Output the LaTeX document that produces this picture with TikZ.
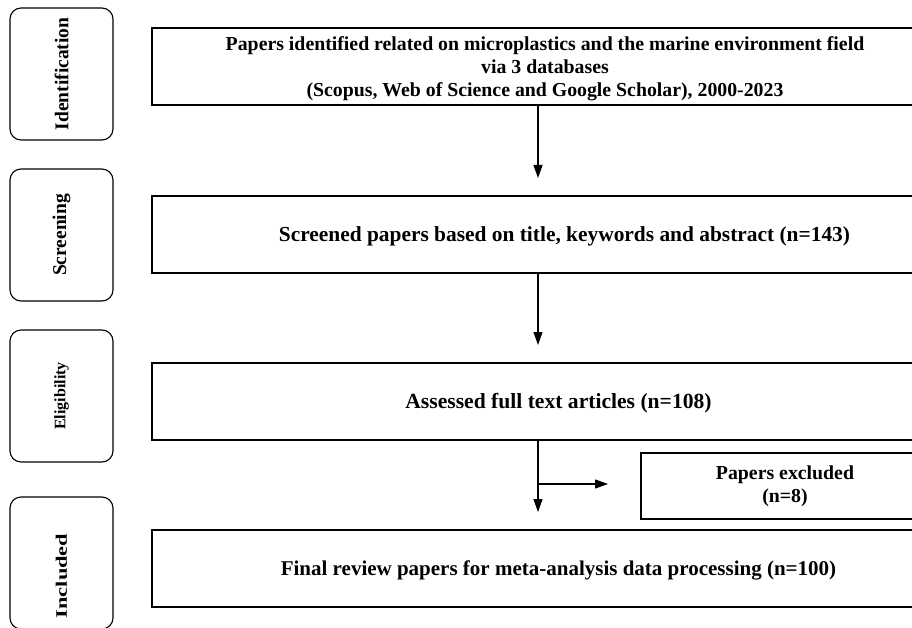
\documentclass[tikz,border=0pt]{standalone}
\usepackage{fontspec}
\setmainfont{Liberation Serif}
\usetikzlibrary{arrows.meta}
\begin{document}
\begin{tikzpicture}[x=1pt,y=-1pt,
  stage/.style={draw,line width=1.1pt,rounded corners=11pt,minimum width=103pt,minimum height=132pt,inner sep=0pt},
  mainbox/.style={draw,line width=1.1pt,minimum width=812pt,minimum height=77pt,inner sep=0pt},
  boxtext/.style={inner sep=0pt,align=center},
  arr/.style={line width=1.1pt,-{Triangle[length=13pt,width=9pt]}}]
\clip (0,0) rectangle (912,628);
\fill[white] (0,0) rectangle (912,628);
% stage boxes
\node[stage] (s1) at (61.5,74) {};
\node[stage] (s2) at (61.5,235) {};
\node[stage] (s3) at (61.5,396) {};
\node[stage] (s4) at (61.5,563) {};
\node[rotate=90,font=\bfseries\fontsize{19.5}{20}\selectfont] (t1) at (s1.center) {Identification};
\node[rotate=90,font=\bfseries\fontsize{19.5}{20}\selectfont] (t2) at (s2.center) {Screening};
\node[rotate=90,font=\bfseries\fontsize{16}{17}\selectfont] (t3) at (s3.center) {Eligibility};
\node[rotate=90,font=\bfseries\fontsize{16}{17}\selectfont] (t4) at (61.5,576) {\scalebox{1.4}[1]{Included}};
% main boxes
\node[mainbox] (b1) at (558,66.5) {};
\node[mainbox] (b2) at (558,234.5) {};
\node[mainbox] (b3) at (558,401.5) {};
\node[mainbox] (b4) at (558,568.5) {};
\node[draw,line width=1.1pt,minimum width=290pt,minimum height=66pt,inner sep=0pt] (ex) at (786,486) {};
% texts
\node[boxtext,font=\bfseries\fontsize{19.8}{23}\selectfont] (b1t) at (545,69) {Papers identified related on microplastics and the marine environment field\\via 3 databases\\(Scopus, Web of Science and Google Scholar), 2000-2023};
\node[boxtext,font=\bfseries\fontsize{21.4}{23}\selectfont] (b2t) at (564.5,236.5) {Screened papers based on title, keywords and abstract (n=143)};
\node[boxtext,font=\bfseries\fontsize{21.6}{23}\selectfont] (b3t) at (558.5,403.5) {Assessed full text articles (n=108)};
\node[boxtext,font=\bfseries\fontsize{21}{23}\selectfont] (b4t) at (558.5,570.5) {Final review papers for meta-analysis data processing (n=100)};
\node[boxtext,font=\bfseries\fontsize{19.8}{23}\selectfont] (ext) at (785,486) {Papers excluded\\(n=8)};
% arrows
\coordinate (ax) at (538,0);
\coordinate (e1) at (538,178);
\coordinate (e2) at (538,345);
\coordinate (e3) at (538,512);
\coordinate (br) at (538,484);
\coordinate (be) at (608,484);
\draw[arr] (b1.south -| ax) -- (e1);
\draw[arr] (b2.south -| ax) -- (e2);
\draw[arr] (b3.south -| ax) -- (e3);
\draw[arr] (br) -- (be);
\end{tikzpicture}
\end{document}
